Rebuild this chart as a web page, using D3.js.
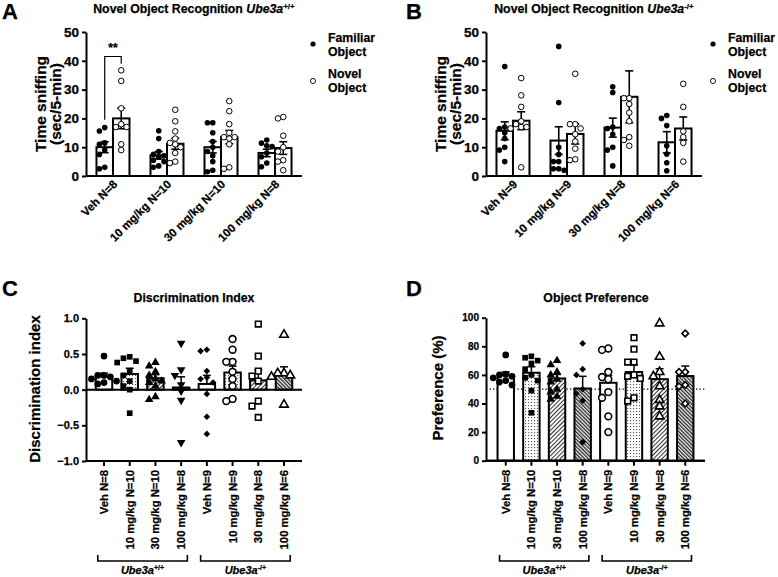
<!DOCTYPE html>
<html>
<head>
<meta charset="utf-8">
<script src="https://cdn.jsdelivr.net/npm/d3@7"></script>
<style>
  body { margin: 0; background: #fff; }
  text { font-family: "Liberation Sans", Arial, sans-serif; font-weight: bold; fill: #000;
         stroke: #000; stroke-width: 0.25; }
</style>
</head>
<body>
<svg id="fig" width="778" height="577"></svg>
<script>
// ---- data ----
const doseA = ["Veh N=8", "10 mg/kg N=10", "30 mg/kg N=10", "100 mg/kg N=8"];
const doseB = ["Veh N=9", "10 mg/kg N=9", "30 mg/kg N=8", "100 mg/kg N=6"];
const objects = ["Familiar", "Novel"];

const meanA_fam = [10, 7.2, 10, 8];
const semA_fam = [1.9, 1.3, 2, 1.3];
const meanA_nov = [20, 11.2, 13.5, 9.7];
const semA_nov = [3.6, 1.9, 2.3, 2.2];
const ptsA_fam = [
  [16.8, 15.6, 11.5, 11, 9, 7.5, 3, 2.5],
  [15.7, 13, 8.5, 7.5, 7, 6.5, 5.5, 5, 3.5, 3],
  [18.5, 18.5, 15, 12, 10, 8.5, 7, 5, 2, 1.5],
  [12.5, 11.4, 10.5, 10.2, 8, 6.7, 4.5, 3.2]
];
const ptsA_nov = [
  [36.7, 33, 23.5, 18, 17, 17, 11, 9],
  [23, 19, 15.5, 13, 11.5, 11, 10, 8, 5, 4.5],
  [26, 22.5, 18, 15, 13.5, 13.5, 13, 11, 3, 2.5],
  [20.5, 20, 14, 10, 8.5, 5.5, 5, 2]
];

const meanB_fam = [15.7, 12.3, 16.8, 11.7];
const semB_fam = [3.1, 4.8, 3.3, 3.7];
const meanB_nov = [19.2, 14.6, 27.5, 16.5];
const semB_nov = [3.1, 3.5, 9, 4];
const ptsB_fam = [
  [38, 17, 16.5, 16.5, 15, 13, 10, 9, 5],
  [45, 25.5, 10, 7.5, 5, 5, 2.5, 2.5, 2],
  [31, 29, 17, 16.5, 14.5, 10, 9, 3.5],
  [21, 20, 17.5, 10.5, 7.6, 4.6, 1.8]
];
const ptsB_nov = [
  [34, 28, 24, 19, 18, 17, 17, 16.5, 3],
  [35.5, 18, 18, 16.5, 14.5, 12, 9.5, 5.8, 5.5],
  [27, 27, 25, 22, 19, 13.5, 12.5, 10.5],
  [32, 24, 15.5, 13.5, 11.5, 5]
];

const groupsCD = ["Veh N=8", "10 mg/kg N=10", "30 mg/kg N=10", "100 mg/kg N=8",
                  "Veh N=9", "10 mg/kg N=9", "30 mg/kg N=8", "100 mg/kg N=6"];
const genotypes = ["+/+", "-/+"];

const meanC = [0.19, 0.22, 0.16, 0.03, 0.08, 0.24, 0.13, 0.21];
const semC = [0.04, 0.08, 0.05, 0.15, 0.12, 0.09, 0.15, 0.11];
const ptsC = [
  [0.47, 0.2, 0.2, 0.18, 0.15, 0.12, 0.1, 0.08],
  [0.46, 0.44, 0.4, 0.38, 0.25, 0.2, 0.12, 0.05, 0.0, -0.33],
  [0.38, 0.33, 0.25, 0.2, 0.15, 0.12, 0.1, 0.05, -0.1, -0.14],
  [0.65, 0.28, 0.2, 0.07, -0.02, -0.15, -0.74],
  [0.56, 0.54, 0.26, 0.17, 0.15, 0.1, -0.06, -0.38, -0.62],
  [0.71, 0.56, 0.39, 0.39, 0.25, 0.15, 0.05, -0.13, -0.16],
  [0.92, 0.47, 0.26, 0.19, 0.12, -0.16, -0.23, -0.39],
  [0.77, 0.23, 0.23, 0.2, 0.18, -0.21]
];

const meanD = [60, 61.5, 57.5, 50.5, 54.5, 62, 57, 59.2];
const semD = [2, 4.2, 2.8, 8.5, 5, 5, 7.3, 7];
const ptsD = [
  [74, 60.5, 60, 59, 58, 56, 55, 53],
  [73, 72, 70, 68, 64, 60, 58, 56, 49, 33.5],
  [70, 67, 62, 60, 57, 55, 50, 48, 45, 43],
  [82, 64, 60, 50, 47, 42, 13],
  [78.5, 77.5, 62, 58.5, 57, 48, 44, 31, 20],
  [86, 78, 69, 69, 60, 59, 57.5, 44, 41.7],
  [96, 72.7, 62, 59, 52, 42.4, 38, 31],
  [89, 62, 62, 53, 52, 40]
];

const shapesC = ["circle", "square", "triangle", "triangleDown", "diamond", "circle", "square", "triangle"];
const filledC = [true, true, true, true, true, false, false, false];
const shapesD = ["circle", "square", "triangle", "diamond", "circle", "square", "triangle", "diamond"];
const filledD = [true, true, true, true, false, false, false, false];
const fills = ["white", "url(#dots)", "url(#hatch)", "url(#dense)",
               "white", "url(#dots)", "url(#hatch)", "url(#dense)"];

const svg = d3.select("#fig");

// ---- fill patterns ----
const defs = svg.append("defs");
const dots = defs.append("pattern").attr("id", "dots").attr("patternUnits", "userSpaceOnUse")
  .attr("width", 3).attr("height", 3);
dots.append("rect").attr("width", 3).attr("height", 3).attr("fill", "white");
dots.append("rect").attr("width", 1.1).attr("height", 1.1).attr("fill", "#555");

const hatch = defs.append("pattern").attr("id", "hatch").attr("patternUnits", "userSpaceOnUse")
  .attr("width", 3).attr("height", 3).attr("patternTransform", "rotate(45)");
hatch.append("rect").attr("width", 3).attr("height", 3).attr("fill", "white");
hatch.append("line").attr("x1", 0.5).attr("y1", 0).attr("x2", 0.5).attr("y2", 3)
  .attr("stroke", "#333").attr("stroke-width", 1.1);

const dense = defs.append("pattern").attr("id", "dense").attr("patternUnits", "userSpaceOnUse")
  .attr("width", 2.6).attr("height", 2.6).attr("patternTransform", "rotate(-45)");
dense.append("rect").attr("width", 2.6).attr("height", 2.6).attr("fill", "#eee");
dense.append("line").attr("x1", 0.6).attr("y1", 0).attr("x2", 0.6).attr("y2", 2.6)
  .attr("stroke", "#222").attr("stroke-width", 1.3);

// ---- helpers ----
function geneText(sel, prefix, sup) {
  if (prefix) sel.append("tspan").text(prefix);
  sel.append("tspan").attr("font-style", "italic").text("Ube3a");
  sel.append("tspan").attr("font-size", "0.65em").attr("dy", "-0.55em").text(sup);
}

// simple beeswarm so overlapping points spread sideways
function swarm(vals, y, r) {
  const placed = [];
  return vals.map(v => {
    const py = y(v);
    let dx = 0;
    for (const s of [0, -1, 1, -2, 2, -3, 3]) {
      dx = s * r * 1.9;
      if (placed.every(p => Math.hypot(p[0] - dx, p[1] - py) >= r * 1.9)) break;
    }
    placed.push([dx, py]);
    return { v: v, dx: dx, py: py };
  });
}

function styleAxis(g, fontSize) {
  g.select(".domain").attr("stroke-width", 2);
  g.selectAll(".tick line").attr("stroke-width", 2);
  g.selectAll(".tick text").attr("font-size", fontSize).attr("font-family", null);
}

function panelLetter(letter, x, y) {
  svg.append("text").attr("x", x).attr("y", y).attr("font-size", 22).text(letter);
}

// ---- panels A and B: familiar vs novel ----
function pairPanel(o) {
  const g = svg.append("g");
  const y = d3.scaleLinear().domain([0, 50]).range([176, 32]);
  const x0 = d3.scaleBand().domain(o.groups).range([o.left, o.left + 216])
    .paddingInner(0.389).paddingOuter(0.194);
  const x1 = d3.scaleBand().domain(objects).range([0, x0.bandwidth()]);

  const rows = [];
  o.groups.forEach((grp, i) => {
    rows.push({ grp: grp, obj: "Familiar", mean: o.famMean[i], sem: o.famSem[i], pts: o.famPts[i] });
    rows.push({ grp: grp, obj: "Novel", mean: o.novMean[i], sem: o.novSem[i], pts: o.novPts[i] });
  });
  const cx = d => x0(d.grp) + x1(d.obj) + x1.bandwidth() / 2;

  g.selectAll(".bar").data(rows).enter().append("rect")
    .attr("x", d => x0(d.grp) + x1(d.obj))
    .attr("y", d => y(d.mean))
    .attr("width", x1.bandwidth())
    .attr("height", d => y(0) - y(d.mean))
    .attr("fill", "white").attr("stroke", "black").attr("stroke-width", 2);

  const err = g.selectAll(".err").data(rows).enter().append("g");
  err.append("line").attr("x1", cx).attr("x2", cx)
    .attr("y1", d => y(d.mean - d.sem)).attr("y2", d => y(d.mean + d.sem));
  err.append("line").attr("x1", d => cx(d) - 4).attr("x2", d => cx(d) + 4)
    .attr("y1", d => y(d.mean + d.sem)).attr("y2", d => y(d.mean + d.sem));
  err.append("line").attr("x1", d => cx(d) - 4).attr("x2", d => cx(d) + 4)
    .attr("y1", d => y(d.mean - d.sem)).attr("y2", d => y(d.mean - d.sem));
  err.selectAll("line").attr("stroke", "black").attr("stroke-width", 1.6);

  rows.forEach(d => {
    g.selectAll(null).data(swarm(d.pts, y, 2.8)).enter().append("circle")
      .attr("cx", p => cx(d) + p.dx).attr("cy", p => p.py).attr("r", 2.8)
      .attr("fill", d.obj === "Familiar" ? "black" : "white")
      .attr("stroke", "black").attr("stroke-width", d.obj === "Familiar" ? 0 : 1);
  });

  const ya = g.append("g").attr("transform", `translate(${o.left},0)`)
    .call(d3.axisLeft(y).tickValues([0, 10, 20, 30, 40, 50]).tickSize(4).tickSizeOuter(0));
  styleAxis(ya, 13.5);
  g.append("line").attr("x1", o.left).attr("x2", o.left + 216)
    .attr("y1", y(0)).attr("y2", y(0)).attr("stroke", "black").attr("stroke-width", 2);

  g.selectAll(".xl").data(o.groups).enter().append("text")
    .attr("transform", d => `translate(${x0(d) + x0.bandwidth() / 2 + 5},${y(0) + 9}) rotate(-45)`)
    .attr("text-anchor", "end").attr("font-size", 11.5).text(d => d);

  g.append("text").attr("transform", `translate(${o.left - 40},${y(25)}) rotate(-90)`)
    .attr("text-anchor", "middle").attr("font-size", 15.5).text("Time sniffing");
  g.append("text").attr("transform", `translate(${o.left - 25},${y(25)}) rotate(-90)`)
    .attr("text-anchor", "middle").attr("font-size", 15.5).text("(sec/5-min)");

  g.append("text").attr("x", o.left + 108).attr("y", 13).attr("text-anchor", "middle")
    .attr("font-size", 12.3).call(geneText, "Novel Object Recognition ", o.gene);

  // legend
  const lx = o.left + 227;
  g.append("circle").attr("cx", lx).attr("cy", 44).attr("r", 2.6).attr("fill", "black");
  g.append("circle").attr("cx", lx).attr("cy", 81).attr("r", 2.6).attr("fill", "white")
    .attr("stroke", "black").attr("stroke-width", 0.9);
  [["Familiar", 42], ["Object", 56], ["Novel", 78], ["Object", 92]].forEach(t => {
    g.append("text").attr("x", lx + 15).attr("y", t[1]).attr("font-size", 12.3).text(t[0]);
  });

  if (o.sig) {
    const xa = cx(rows[0]), xb = cx(rows[1]);
    g.append("path")
      .attr("d", `M${xa},${y(19.5)}V${y(41.5)}H${xb}V${y(39)}`)
      .attr("fill", "none").attr("stroke", "black").attr("stroke-width", 1.2);
    g.append("text").attr("x", (xa + xb) / 2).attr("y", y(43)).attr("text-anchor", "middle")
      .attr("font-size", 12).text(o.sig);
  }
}

// ---- panels C and D: eight groups with symbols ----
const symbolFor = {
  circle: [d3.symbolCircle, 0, 36],
  square: [d3.symbolSquare, 0, 32],
  triangle: [d3.symbolTriangle, 0, 32],
  triangleDown: [d3.symbolTriangle, 180, 32],
  diamond: [d3.symbolSquare, 45, 22]
};

function groupPanel(o) {
  const g = svg.append("g");
  const y = d3.scaleLinear().domain(o.domain).range(o.yRange);
  const x = d3.scaleBand().domain(groupsCD).range([o.left, o.right])
    .paddingInner(0.36).paddingOuter(o.padOuter);
  const bw = x.bandwidth();
  const rows = groupsCD.map((grp, i) => ({
    grp: grp, i: i, mean: o.mean[i], sem: o.sem[i], pts: o.pts[i]
  }));
  const cx = d => x(d.grp) + bw / 2;
  const base = y(o.base);

  if (o.refLine !== undefined) {
    g.append("line").attr("x1", o.left).attr("x2", o.right)
      .attr("y1", y(o.refLine)).attr("y2", y(o.refLine))
      .attr("stroke", "black").attr("stroke-width", 1.2).attr("stroke-dasharray", "1.3,2.2");
  }

  g.selectAll(".bar").data(rows).enter().append("rect")
    .attr("x", d => x(d.grp))
    .attr("y", d => Math.min(y(d.mean), base))
    .attr("width", bw)
    .attr("height", d => Math.abs(base - y(d.mean)))
    .attr("fill", d => fills[d.i]).attr("stroke", "black").attr("stroke-width", 2);

  const err = g.selectAll(".err").data(rows).enter().append("g");
  err.append("line").attr("x1", cx).attr("x2", cx)
    .attr("y1", d => y(d.mean)).attr("y2", d => y(d.mean + d.sem));
  err.append("line").attr("x1", d => cx(d) - 4).attr("x2", d => cx(d) + 4)
    .attr("y1", d => y(d.mean + d.sem)).attr("y2", d => y(d.mean + d.sem));
  err.selectAll("line").attr("stroke", "black").attr("stroke-width", 1.5);

  rows.forEach(d => {
    const s = symbolFor[o.shapes[d.i]];
    const filled = o.filled[d.i];
    g.selectAll(null).data(swarm(d.pts, y, 3.3)).enter().append("path")
      .attr("d", d3.symbol().type(s[0]).size(s[2]))
      .attr("transform", p => `translate(${cx(d) + p.dx},${p.py}) rotate(${s[1]})`)
      .attr("fill", filled ? "black" : "white")
      .attr("stroke", "black").attr("stroke-width", filled ? 0 : 1.6);
  });

  const ya = g.append("g").attr("transform", `translate(${o.left},0)`)
    .call(d3.axisLeft(y).tickValues(o.ticks).tickFormat(d3.format(o.fmt)).tickSize(4).tickSizeOuter(0));
  styleAxis(ya, o.tickFont);

  // baseline of bars
  g.append("line").attr("x1", o.left).attr("x2", o.right)
    .attr("y1", base).attr("y2", base).attr("stroke", "black").attr("stroke-width", 2);
  // category axis at the bottom of the value range
  const bottom = y(o.domain[0]);
  g.append("line").attr("x1", o.left).attr("x2", o.right)
    .attr("y1", bottom).attr("y2", bottom).attr("stroke", "black").attr("stroke-width", 2);
  g.selectAll(".xt").data(rows).enter().append("line")
    .attr("x1", cx).attr("x2", cx).attr("y1", bottom).attr("y2", bottom + 5)
    .attr("stroke", "black").attr("stroke-width", 2);
  g.selectAll(".xl").data(rows).enter().append("text")
    .attr("transform", d => `translate(${cx(d) + 4},${bottom + 9}) rotate(-90)`)
    .attr("text-anchor", "end").attr("font-size", 11.3).text(d => d.grp);

  // genotype brackets
  genotypes.forEach((gt, k) => {
    const x1 = x(groupsCD[k * 4]) + 2, x2 = x(groupsCD[k * 4 + 3]) + bw - 2;
    g.append("path").attr("d", `M${x1},555V561H${x2}V555`)
      .attr("fill", "none").attr("stroke", "black").attr("stroke-width", 1.6);
    g.append("text").attr("x", (x1 + x2) / 2).attr("y", 574).attr("text-anchor", "middle")
      .attr("font-size", 11).call(geneText, "", gt);
  });

  g.append("text").attr("transform", `translate(${o.labelX},${o.labelY}) rotate(-90)`)
    .attr("text-anchor", "middle").attr("font-size", 15).text(o.yLabel);
  g.append("text").attr("x", o.titleX).attr("y", 302).attr("text-anchor", "middle")
    .attr("font-size", 12.3).text(o.title);
}

panelLetter("A", 2, 19);
pairPanel({
  left: 86, groups: doseA, gene: "+/+", sig: "**",
  famMean: meanA_fam, famSem: semA_fam, famPts: ptsA_fam,
  novMean: meanA_nov, novSem: semA_nov, novPts: ptsA_nov
});

panelLetter("B", 406, 19);
pairPanel({
  left: 486, groups: doseB, gene: "-/+",
  famMean: meanB_fam, famSem: semB_fam, famPts: ptsB_fam,
  novMean: meanB_nov, novSem: semB_nov, novPts: ptsB_nov
});

panelLetter("C", 2, 296);
groupPanel({
  left: 86, right: 302, padOuter: 0.38,
  domain: [-1, 1], yRange: [461, 318.3], base: 0,
  ticks: [-1, -0.5, 0, 0.5, 1], fmt: ".1f", tickFont: 11,
  mean: meanC, sem: semC, pts: ptsC, shapes: shapesC, filled: filledC,
  yLabel: "Discrimination index", labelX: 40, labelY: 389,
  title: "Discrimination Index", titleX: 194
});

panelLetter("D", 406, 296);
groupPanel({
  left: 486, right: 705, padOuter: 0.45,
  domain: [0, 100], yRange: [460.7, 317.7], base: 0, refLine: 50,
  ticks: [0, 20, 40, 60, 80, 100], fmt: "d", tickFont: 10,
  mean: meanD, sem: semD, pts: ptsD, shapes: shapesD, filled: filledD,
  yLabel: "Preference (%)", labelX: 443, labelY: 388,
  title: "Object Preference", titleX: 596
});
</script>
</body>
</html>
